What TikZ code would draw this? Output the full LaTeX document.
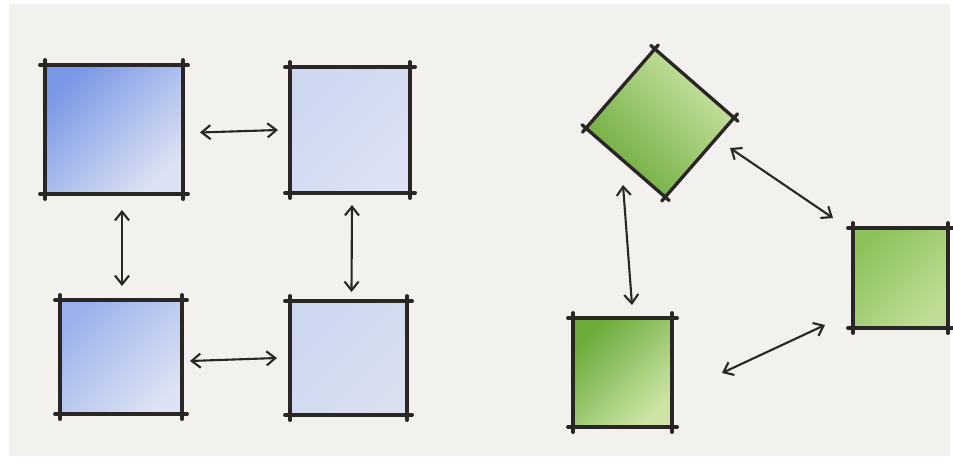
\documentclass[tikz,border=0pt]{standalone}
\usepackage{xcolor}
\usetikzlibrary{arrows.meta, calc}

\definecolor{paper}{HTML}{F2F1ED}
\definecolor{ink}{HTML}{2B2626}
\definecolor{blueDeep}{HTML}{7B98E6}
\definecolor{blueMid}{HTML}{9DB2EC}
\definecolor{bluePale}{HTML}{DCE2F3}
\definecolor{blueWash}{HTML}{CDD7F0}
\definecolor{greenDeep}{HTML}{6AAB3A}
\definecolor{greenMid}{HTML}{8CC25A}
\definecolor{greenPale}{HTML}{CDE4A6}

\begin{document}
\begin{tikzpicture}[
  x=0.02cm, y=-0.02cm,
  box/.style={inner sep=0pt, outer sep=0pt},
  wash/.style 2 args={box, top color=#1, bottom color=#2, shading angle=45},
  rim/.style={ink, line width=1.9pt, line cap=round, shorten <=-3pt, shorten >=-3pt},
  link/.style={ink, line width=1.2pt, line cap=round,
    {Straight Barb[length=5pt,width=8pt]}-{Straight Barb[length=5pt,width=8pt]}}
]
\useasboundingbox (0,0) rectangle (953,463);
\fill[paper] (9,4) rectangle (950,456);

% Blue group: four squares in a grid
\node (b1) [wash={blueDeep}{bluePale}, minimum width=2.76cm, minimum height=2.58cm] at (114,129.5) {};
\node (b2) [wash={blueWash}{bluePale}, minimum width=2.4cm, minimum height=2.52cm] at (350,130) {};
\node (b3) [wash={blueMid}{bluePale}, minimum width=2.44cm, minimum height=2.28cm] at (121,357) {};
\node (b4) [wash={blueWash}{blueWash!70!paper}, minimum width=2.34cm, minimum height=2.28cm] at (348.5,358) {};

% Green group: a diamond and two squares
\node (d) [box, top color=greenPale, bottom color=greenDeep, shading angle=-45,
  minimum size=2.1cm, rotate=-41] at (660,123) {};
\node (g1) [wash={greenMid}{greenPale!80!greenMid}, minimum width=1.9cm, minimum height=2cm] at (900.5,278) {};
\node (g2) [wash={greenDeep}{greenPale}, minimum width=1.98cm, minimum height=2.18cm] at (622.5,372.5) {};

% Ink outlines
\foreach \b in {b1,b2,b3,b4,d,g1,g2} {
  \draw[rim] (\b.north west) -- (\b.north east);
  \draw[rim] (\b.north east) -- (\b.south east);
  \draw[rim] (\b.south west) -- (\b.south east);
  \draw[rim] (\b.north west) -- (\b.south west);
}

% Links
\draw[link] ($(b1.east)+(17,3)$) -- ($(b2.west)+(-12,0)$);
\draw[link] ($(b1.south)+(8,16)$) -- ($(b3.north)+(1,-14)$);
\draw[link] ($(b2.south)+(2,12)$) -- ($(b4.north)+(3,-9)$);
\draw[link] ($(b3.east)+(8,4)$) -- ($(b4.west)+(-13,0)$);

\draw[link] ($(d)+(70,25)$) -- ($(g1.north west)+(-20,-10)$);
\draw[link] ($(d)+(-37,62)$) -- ($(g2.north)+(9.5,-13)$);
\draw[link] ($(g2.east)+(50,0.5)$) -- ($(g1.south west)+(-28,-3)$);
\end{tikzpicture}
\end{document}
